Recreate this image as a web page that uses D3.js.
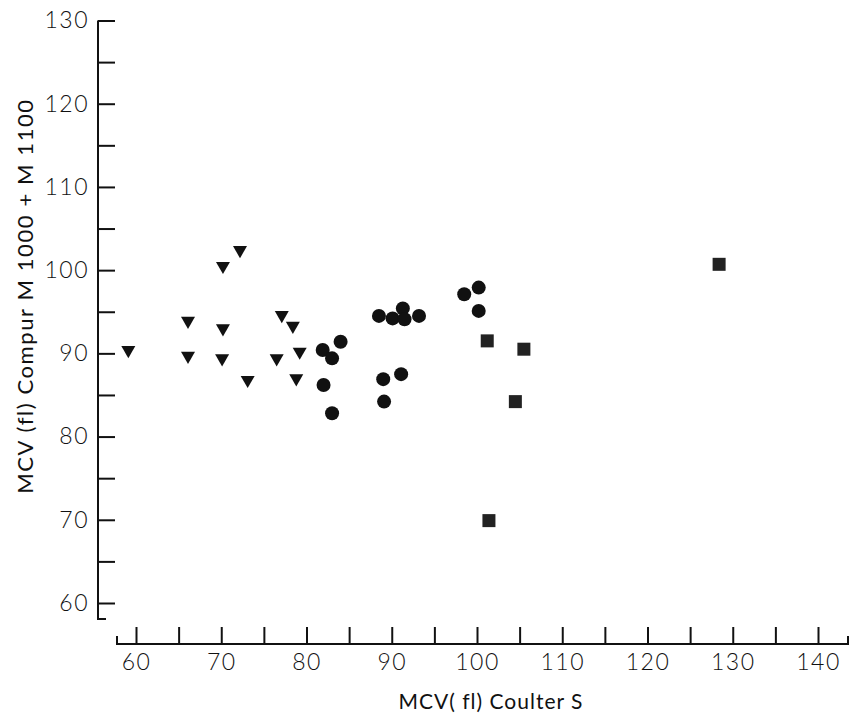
<!DOCTYPE html>
<html>
<head>
<meta charset="utf-8">
<script src="https://cdn.jsdelivr.net/npm/d3@7"></script>
<style>
  html, body { margin: 0; padding: 0; background: #fff; }
  svg { display: block; }
  text { font-family: Lato, "DejaVu Sans", sans-serif; fill: #111; }
</style>
</head>
<body>
<svg id="chart" width="852" height="718"></svg>
<script>
// MCV measured on Coulter S (x) versus Compur M 1000 + M 1100 (y), three sample groups
const triangleX = [59.1, 66.1, 66.1, 70.2, 72.2, 70.2, 70.1, 73.1, 77.1, 78.4, 76.5, 79.2, 78.8];
const triangleY = [90.4, 93.9, 89.7, 100.5, 102.4, 93.0, 89.4, 86.8, 94.6, 93.3, 89.4, 90.2, 87.0];

const circleX = [81.9, 84.0, 83.0, 82.0, 83.0, 88.5, 90.1, 91.3, 91.5, 93.2, 89.0, 91.1, 89.1, 98.5, 100.2, 100.2];
const circleY = [90.4, 91.4, 89.4, 86.2, 82.8, 94.5, 94.2, 95.4, 94.1, 94.5, 86.9, 87.5, 84.2, 97.1, 97.9, 95.1];

const squareX = [101.2, 105.5, 104.5, 101.4, 128.4];
const squareY = [91.5, 90.5, 84.2, 69.9, 100.7];

const xTicks = d3.range(60, 141, 5);
const xTickLabels = [60, 70, 80, 90, 100, 110, 120, 130, 140];
const yTicks = d3.range(60, 131, 5);
const yTickLabels = [60, 70, 80, 90, 100, 110, 120, 130];

const xTitle = "MCV( fl) Coulter S";
const yTitle = "MCV (fl) Compur M 1000 + M 1100";

const ink = "#111";
const svg = d3.select("#chart");

const x = d3.scaleLinear().domain([60, 140]).range([136, 818]);
const y = d3.scaleLinear().domain([60, 130]).range([603, 20.5]);

const xAxisY = 644;
const yAxisX = 98;

// ---- y axis: ticks point inward, labels on the outside
const yAxis = d3.axisLeft(y)
  .tickValues(yTicks)
  .tickSizeInner(-17)
  .tickSizeOuter(0)
  .tickPadding(9)
  .tickFormat(d => yTickLabels.includes(d) ? d : "");

const gy = svg.append("g").attr("transform", `translate(${yAxisX},0)`).call(yAxis);
gy.select(".domain").remove();
gy.selectAll(".tick line").attr("stroke", ink).attr("stroke-width", 2);
gy.selectAll(".tick text")
  .attr("font-size", 23)
  .attr("font-weight", 300)
  .attr("letter-spacing", 1.5)
  .attr("fill", ink);

// vertical spine with a short foot at the bottom
svg.append("path")
  .attr("d", `M${yAxisX},${y(130)} V619 H${yAxisX + 8}`)
  .attr("fill", "none").attr("stroke", ink).attr("stroke-width", 2);

// ---- x axis: ticks pointing up, labels below
const xAxis = d3.axisBottom(x)
  .tickValues(xTicks)
  .tickSizeInner(-17)
  .tickSizeOuter(0)
  .tickPadding(10)
  .tickFormat(d => xTickLabels.includes(d) ? d : "");

const gx = svg.append("g").attr("transform", `translate(0,${xAxisY})`).call(xAxis);
gx.select(".domain").remove();
gx.selectAll(".tick line").attr("stroke", ink).attr("stroke-width", 2);
gx.selectAll(".tick text")
  .attr("font-size", 23)
  .attr("font-weight", 300)
  .attr("letter-spacing", 1.5)
  .attr("fill", ink);

// horizontal spine with raised end stubs
svg.append("path")
  .attr("d", `M117,${xAxisY - 8} V${xAxisY} H848 V${xAxisY - 8}`)
  .attr("fill", "none").attr("stroke", ink).attr("stroke-width", 2);

// ---- axis titles
svg.append("text")
  .attr("x", 491).attr("y", 709)
  .attr("text-anchor", "middle")
  .attr("font-size", 21)
  .attr("letter-spacing", 1)
  .text(xTitle);

svg.append("text")
  .attr("transform", "translate(33,296) rotate(-90)")
  .attr("text-anchor", "middle")
  .attr("font-size", 22)
  .attr("letter-spacing", 1.6)
  .text(yTitle);

// ---- markers
const plot = svg.append("g");

// downward-pointing triangle centred on its centroid
const triPath = (cx, cy, s) => {
  const h = s * 0.87;
  return `M${cx - s / 2},${cy - h / 3} L${cx + s / 2},${cy - h / 3} L${cx},${cy + 2 * h / 3} Z`;
};

plot.selectAll("path.tri")
  .data(d3.zip(triangleX, triangleY))
  .join("path")
  .attr("class", "tri")
  .attr("d", d => triPath(x(d[0]), y(d[1]), 14))
  .attr("fill", ink);

plot.selectAll("circle.dot")
  .data(d3.zip(circleX, circleY))
  .join("circle")
  .attr("class", "dot")
  .attr("cx", d => x(d[0]))
  .attr("cy", d => y(d[1]))
  .attr("r", 7)
  .attr("fill", ink);

plot.selectAll("rect.sq")
  .data(d3.zip(squareX, squareY))
  .join("rect")
  .attr("class", "sq")
  .attr("x", d => x(d[0]) - 6.5)
  .attr("y", d => y(d[1]) - 6.5)
  .attr("width", 13)
  .attr("height", 13)
  .attr("fill", "#222");
</script>
</body>
</html>
